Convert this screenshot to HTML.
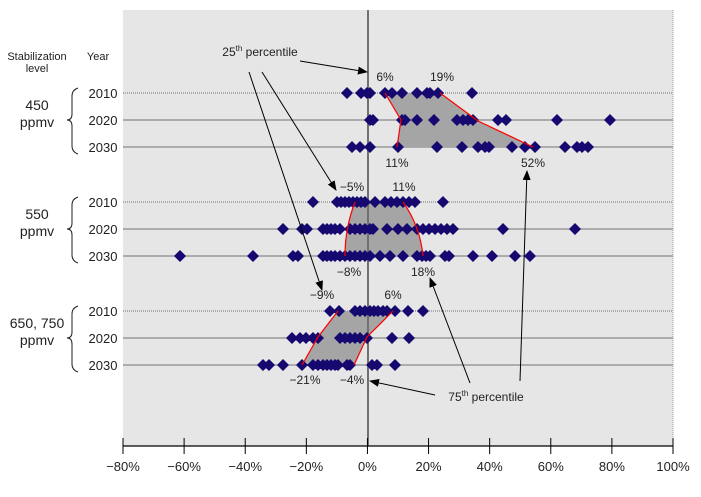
<!DOCTYPE html>
<html><head><meta charset="utf-8"><style>
body{margin:0;background:#fff}
svg{display:block;font-family:"Liberation Sans",sans-serif}
</style></head><body>
<svg id="s" width="701" height="497" viewBox="0 0 701 497" xmlns="http://www.w3.org/2000/svg">
<defs><marker id="ar" markerWidth="10" markerHeight="8" refX="9" refY="4" orient="auto" markerUnits="userSpaceOnUse"><path d="M0,0 L10,4 L0,8 Z" fill="#000"/></marker></defs>
<rect x="123" y="10" width="550" height="436" fill="#e6e6e6"/>
<line x1="673" y1="10" x2="673" y2="446" stroke="#999" stroke-dasharray="1,1"/>
<g stroke="#999" stroke-width="1.5">
<line x1="123" y1="93" x2="673" y2="93" stroke-dasharray="1,1"/><line x1="123" y1="120" x2="673" y2="120"/><line x1="123" y1="147" x2="673" y2="147"/>
<line x1="123" y1="202" x2="673" y2="202" stroke-dasharray="1,1"/><line x1="123" y1="229" x2="673" y2="229"/><line x1="123" y1="256" x2="673" y2="256"/>
<line x1="123" y1="311" x2="673" y2="311" stroke-dasharray="1,1"/><line x1="123" y1="338" x2="673" y2="338"/><line x1="123" y1="365" x2="673" y2="365"/>
</g>
<path d="M385,93 L401,120 L397,147 L533,147 L478,121 L440,93Z" fill="#a5a5a5"/>
<path d="M355,202 Q345,228 345,256 L423,256 Q420,226 403,202Z" fill="#a5a5a5"/>
<path d="M338,311 L318,337 L302,365 L354,365 L367,337 L393,311Z" fill="#a5a5a5"/>
<line x1="368" y1="10" x2="368" y2="446" stroke="#707070" stroke-width="2"/>
<g id="d" fill="#15086e"></g>
<g fill="none" stroke="#f00" stroke-width="1.2">
<path d="M385,93 L401,120 L397,147"/><path d="M440,93 L478,121 L533,147"/>
<path d="M355,202 Q345,228 345,256"/><path d="M403,202 Q420,226 423,256"/>
<path d="M338,311 L318,337 L302,365"/><path d="M393,311 L367,337 L354,365"/>
</g>
<line x1="123" y1="446" x2="673" y2="446" stroke="#000" stroke-width="1.2"/>
<g stroke="#000" id="tk"></g>
<g font-size="13" text-anchor="middle" fill="#222" id="tl"></g>
<g font-size="12" fill="#222" text-anchor="middle">
<text x="385" y="81">6%</text><text x="442" y="81">19%</text>
<text x="397" y="167">11%</text><text x="533" y="167">52%</text>
<text x="352" y="191">−5%</text><text x="404" y="191">11%</text>
<text x="349" y="276">−8%</text><text x="423" y="276">18%</text>
<text x="322" y="299">−9%</text><text x="393" y="299">6%</text>
<text x="305" y="384">−21%</text><text x="352" y="384">−4%</text>
<text x="260" y="56">25<tspan font-size="8" dy="-5">th</tspan><tspan dy="5"> percentile</tspan></text>
<text x="486" y="401">75<tspan font-size="8" dy="-5">th</tspan><tspan dy="5"> percentile</tspan></text>
</g>
<g stroke="#000" stroke-width="1" marker-end="url(#ar)">
<line x1="300" y1="61" x2="367" y2="72"/>
<line x1="262" y1="72" x2="336" y2="190"/>
<line x1="249" y1="72" x2="322" y2="290"/>
<line x1="435" y1="395" x2="370" y2="381"/>
<line x1="470" y1="383" x2="430" y2="278"/>
<line x1="520" y1="381" x2="527" y2="171"/>
</g>
<g font-size="11" fill="#222" text-anchor="middle">
<text x="37" y="60">Stabilization</text><text x="37" y="72">level</text><text x="98" y="60">Year</text>
</g>
<g font-size="14" fill="#222" text-anchor="middle">
<text x="37" y="110">450</text><text x="37" y="127">ppmv</text>
<text x="37" y="219">550</text><text x="37" y="236">ppmv</text>
<text x="37" y="328">650, 750</text><text x="37" y="345">ppmv</text>
</g>
<g font-size="13" fill="#222" text-anchor="middle">
<text x="103" y="98">2010</text><text x="103" y="125">2020</text><text x="103" y="152">2030</text>
<text x="103" y="207">2010</text><text x="103" y="234">2020</text><text x="103" y="261">2030</text>
<text x="103" y="316">2010</text><text x="103" y="343">2020</text><text x="103" y="370">2030</text>
</g>
<g fill="none" stroke="#222" stroke-width="1">
<path d="M78,88 Q72,90 72,96 L72,114 Q72,120 67,120 Q72,120 72,126 L72,146 Q72,152 78,154"/>
<path d="M78,197 Q72,199 72,205 L72,223 Q72,229 67,229 Q72,229 72,235 L72,255 Q72,261 78,263"/>
<path d="M78,306 Q72,308 72,314 L72,332 Q72,338 67,338 Q72,338 72,344 L72,364 Q72,370 78,372"/>
</g>
</svg>
<script>
var rows={93:[347,361,367,370,385,392,402,417,427,430,438,472],
120:[370,373,402,405,417,434,457,463,468,473,498,506,557,610],
147:[352,360,370,398,437,462,478,485,489,512,525,535,565,577,582,588],
202:[313,337,341,345,349,353,357,361,365,375,385,391,397,403,409,415,443],
229:[283,302,307,323,327,331,335,340,350,355,360,365,370,373,387,398,407,417,423,429,435,441,447,453,503,575],
256:[180,253,293,298,323,327,331,335,340,345,350,355,360,365,370,380,390,403,417,422,426,430,445,449,473,492,515,530],
311:[330,339,355,360,365,370,374,378,383,387,395,408,423],
338:[292,300,306,313,318,340,345,350,355,360,367,392,409],
365:[263,269,283,302,313,318,323,327,331,335,338,347,350,372,377,395]};
var g=document.getElementById('d'),ns='http://www.w3.org/2000/svg',d='';
for(var y in rows){rows[y].forEach(function(x){d+='M'+x+','+(y-6)+'l6,6l-6,6l-6,-6z';});}
var p=document.createElementNS(ns,'path');p.setAttribute('d',d);g.appendChild(p);
var tk=document.getElementById('tk'),tl=document.getElementById('tl');
for(var i=0;i<10;i++){var x=123+i*550/9;
var l=document.createElementNS(ns,'line');l.setAttribute('x1',x);l.setAttribute('x2',x);l.setAttribute('y1',438);l.setAttribute('y2',454);tk.appendChild(l);
var t=document.createElementNS(ns,'text');t.setAttribute('x',x);t.setAttribute('y',471);var v=-80+i*20;t.textContent=(v<0?'−'+(-v):v)+'%';tl.appendChild(t);}
</script>
</body></html>
